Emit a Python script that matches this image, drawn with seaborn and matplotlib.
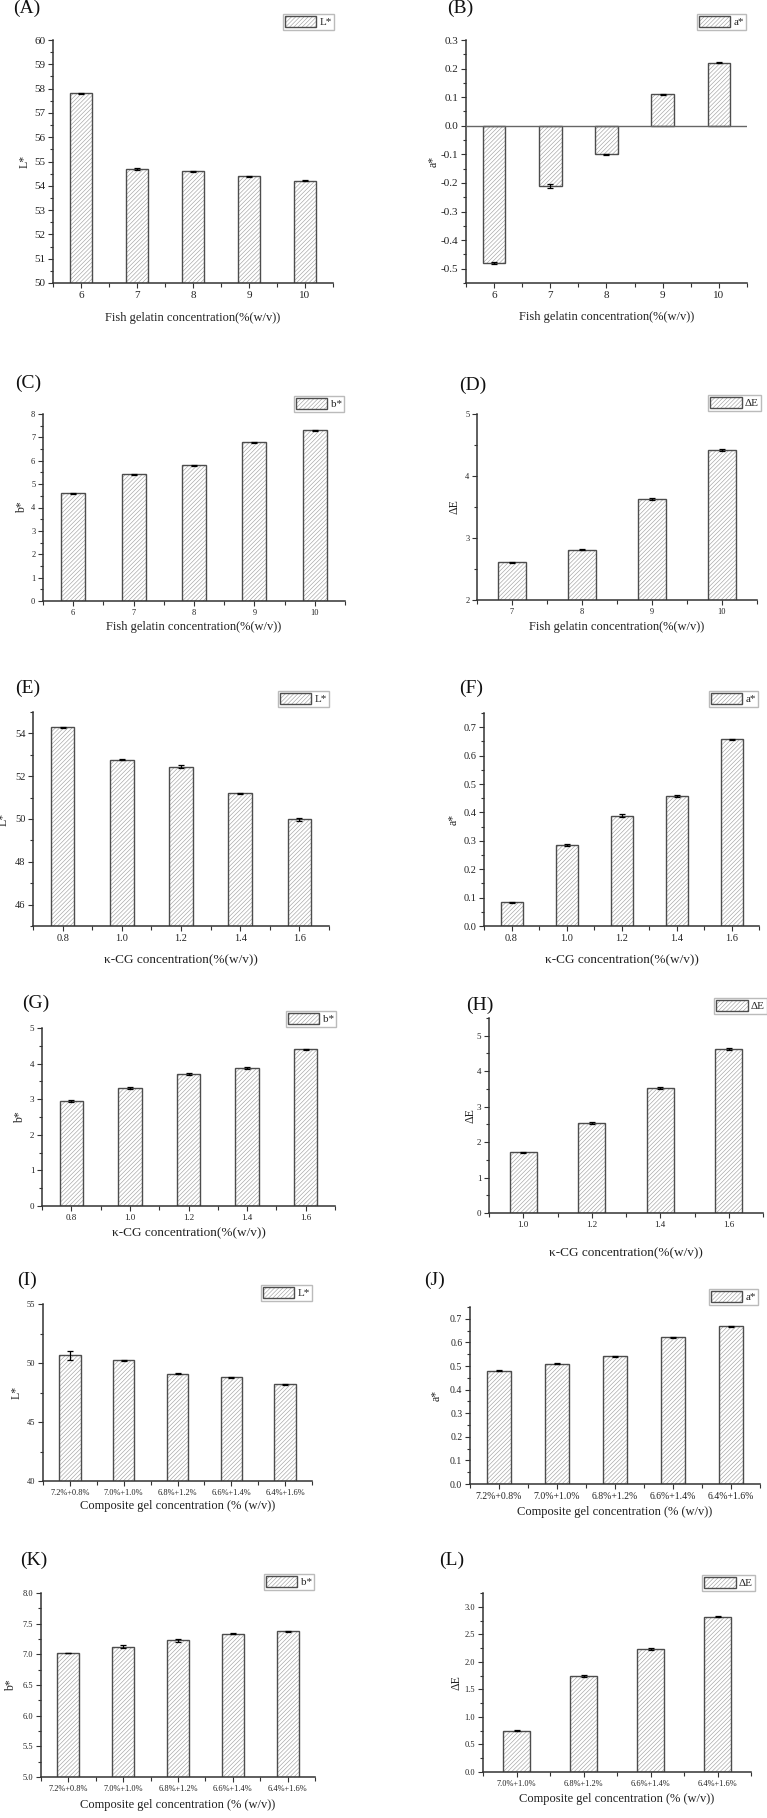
import numpy as np
import matplotlib
matplotlib.use("Agg")
import matplotlib.pyplot as plt
from matplotlib.colors import to_rgba
from matplotlib.ticker import MultipleLocator, FormatStrFormatter
import seaborn as sns

W, H = 767, 1818

# categories
fish_x = ["6", "7", "8", "9", "10"]
fish_x_de = ["7", "8", "9", "10"]
kcg_x = ["0.8", "1.0", "1.2", "1.4", "1.6"]
kcg_x_de = ["1.0", "1.2", "1.4", "1.6"]
comp_x = ["7.2%+0.8%", "7.0%+1.0%", "6.8%+1.2%", "6.6%+1.4%", "6.4%+1.6%"]
comp_x_de = ["7.0%+1.0%", "6.8%+1.2%", "6.6%+1.4%", "6.4%+1.6%"]

# values (mean, error)
fish_L = [57.8, 54.7, 54.6, 54.4, 54.2]
fish_L_err = [0.02, 0.03, 0.02, 0.02, 0.02]
fish_a = [-0.48, -0.21, -0.10, 0.11, 0.22]
fish_a_err = [0.002, 0.006, 0.002, 0.002, 0.002]
fish_b = [4.6, 5.42, 5.8, 6.8, 7.31]
fish_b_err = [0.02, 0.02, 0.02, 0.02, 0.02]
fish_dE = [2.61, 2.81, 3.63, 4.42]
fish_dE_err = [0.01, 0.01, 0.01, 0.01]

kcg_L = [54.28, 52.78, 52.44, 51.2, 49.98]
kcg_L_err = [0.02, 0.02, 0.07, 0.03, 0.06]
kcg_a = [0.084, 0.285, 0.389, 0.458, 0.657]
kcg_a_err = [0.002, 0.002, 0.004, 0.003, 0.002]
kcg_b = [2.95, 3.31, 3.71, 3.88, 4.40]
kcg_b_err = [0.03, 0.02, 0.02, 0.02, 0.01]
kcg_dE = [1.71, 2.54, 3.52, 4.62]
kcg_dE_err = [0.02, 0.02, 0.02, 0.03]

comp_L = [50.65, 50.23, 49.1, 48.78, 48.2]
comp_L_err = [0.38, 0.03, 0.03, 0.03, 0.03]
comp_a = [0.48, 0.51, 0.542, 0.622, 0.668]
comp_a_err = [0.002, 0.002, 0.002, 0.002, 0.002]
comp_b = [7.02, 7.125, 7.23, 7.335, 7.375]
comp_b_err = [0.005, 0.02, 0.025, 0.01, 0.005]
comp_dE = [0.75, 1.745, 2.235, 2.82]
comp_dE_err = [0.005, 0.025, 0.02, 0.01]

fish_label = "Fish gelatin concentration(%(w/v))"
kcg_label = "κ-CG concentration(%(w/v))"
comp_label = "Composite gel concentration (% (w/v))"

sns.set_theme(style="ticks")
plt.rcParams['font.family'] = ['Liberation Serif', 'DejaVu Serif']
plt.rcParams['axes.unicode_minus'] = False
plt.rcParams['hatch.linewidth'] = 0.45

EDGE = "#4d4d4d"
HATCH_C = "#a3a3a3"
AXC = "#333333"


def recolor_hatch(patch):
    # hatch lighter than the bar outline (hatchcolor kwarg not in mpl 3.10)
    patch._hatch_color = to_rgba(HATCH_C)
    patch.stale = True


# letter, cats, vals, errs, ylabel, xlabel, ylim, major, minor, fmt,
# axes box (l, t, r, b), letter pos, legend (r, t), ylabel x, xlabel y, tick size, xlabel size
panels = [
    ("(A)", fish_x, fish_L, fish_L_err, "L*", fish_label, (50, 60), 1, 0.5, "%d",
     (53, 40, 333, 283), (13, 8), (334, 14), 25, 318, 8, 9),
    ("(B)", fish_x, fish_a, fish_a_err, "a*", fish_label, (-0.55, 0.3), 0.1, 0.05, "%.1f",
     (466, 40, 747, 283), (447, 8), (746, 14), 434, 317, 8, 9),
    ("(C)", fish_x, fish_b, fish_b_err, "b*", fish_label, (0, 8), 1, 0.5, "%d",
     (43, 414, 345, 601), (15, 383), (344, 396), 22, 627, 6, 9),
    ("(D)", fish_x_de, fish_dE, fish_dE_err, "ΔE", fish_label, (2, 5), 1, 0.5, "%d",
     (477, 414, 757, 600), (459, 385), (761, 395), 454, 627, 6, 9),
    ("(E)", kcg_x, kcg_L, kcg_L_err, "L*", kcg_label, (45, 55), 2, 1, "%d",
     (33, 712, 329, 926), (15, 688), (329, 691), 4, 960, 7.5, 9.5),
    ("(F)", kcg_x, kcg_a, kcg_a_err, "a*", kcg_label, (0, 0.75), 0.1, 0.05, "%.1f",
     (484, 713, 759, 926), (459, 688), (758, 691), 454, 960, 7.5, 9.5),
    ("(G)", kcg_x, kcg_b, kcg_b_err, "b*", kcg_label, (0, 5), 1, 0.5, "%d",
     (42, 1028, 335, 1206), (22, 1003), (336, 1011), 20, 1233, 6.5, 9.5),
    ("(H)", kcg_x_de, kcg_dE, kcg_dE_err, "ΔE", kcg_label, (0, 5.5), 1, 0.5, "%d",
     (489, 1018, 763, 1213), (466, 1005), (767, 998), 470, 1253, 6.5, 9.5),
    ("(I)", comp_x, comp_L, comp_L_err, "L*", comp_label, (40, 55), 5, 2.5, "%d",
     (43, 1304, 312, 1481), (17, 1280), (312, 1285), 17, 1506, 6, 9),
    ("(J)", comp_x, comp_a, comp_a_err, "a*", comp_label, (0, 0.75), 0.1, 0.05, "%.1f",
     (470, 1307, 760, 1484), (424, 1280), (758, 1289), 437, 1512, 7, 9),
    ("(K)", comp_x, comp_b, comp_b_err, "b*", comp_label, (5, 8), 0.5, 0.25, "%.1f",
     (41, 1593, 315, 1777), (20, 1560), (314, 1574), 11, 1805, 6, 9),
    ("(L)", comp_x_de, comp_dE, comp_dE_err, "ΔE", comp_label, (0, 3.25), 0.5, 0.25, "%.1f",
     (483, 1593, 751, 1772), (439, 1560), (755, 1575), 456, 1799, 6, 9),
]

fig = plt.figure(figsize=(W / 100, H / 100), dpi=100)

for (letter, cats, vals, errs, ylab, xlab, ylim, major, minor, fmt,
     box, lpos, legpos, ylab_x, xlab_y, tsize, xsize) in panels:
    l, t, r, b = box
    ax = fig.add_axes([l / W, 1 - b / H, (r - l) / W, (b - t) / H])
    sns.barplot(x=cats, y=vals, ax=ax, color="white", edgecolor=EDGE,
                hatch="////////", linewidth=1.0, width=0.4, errorbar=None,
                label=ylab, saturation=1)
    for p in ax.patches:
        recolor_hatch(p)
    n = len(cats)
    ax.errorbar(np.arange(n), vals, yerr=errs, fmt="none", ecolor="black",
                elinewidth=0.9, capsize=2.5, capthick=0.9, zorder=4)
    if ylim[0] < 0:
        ax.axhline(0, color="#666666", lw=1.0, zorder=3)
    ax.set_xlim(-0.5, n - 0.5)
    ax.set_ylim(*ylim)
    ax.yaxis.set_major_locator(MultipleLocator(major))
    ax.yaxis.set_minor_locator(MultipleLocator(minor))
    ax.yaxis.set_major_formatter(FormatStrFormatter(fmt))
    ax.set_xticks(np.arange(-0.5, n, 1.0), minor=True)
    sns.despine(ax=ax)
    for s in ("left", "bottom"):
        ax.spines[s].set_color(AXC)
        ax.spines[s].set_linewidth(1.1)
    ax.tick_params(axis="both", which="both", direction="out", colors=AXC,
                   labelcolor="#222222", labelsize=tsize, width=0.8)
    ax.tick_params(which="major", length=3.5, pad=2)
    ax.tick_params(which="minor", length=2)
    ax.tick_params(axis="x", which="minor", length=3)

    ax.set_ylabel(ylab, fontsize=8.5, color="#222222")
    ax.yaxis.label.set_va("center")
    ax.yaxis.set_label_coords((ylab_x - l) / (r - l), 0.5)
    ax.set_xlabel(xlab, fontsize=xsize, color="#222222")
    ax.xaxis.label.set_va("center")
    ax.xaxis.set_label_coords(0.5, (b - xlab_y) / (b - t))

    leg = ax.legend(loc="upper right", bbox_to_anchor=(legpos[0] / W, 1 - legpos[1] / H),
                    bbox_transform=fig.transFigure, frameon=True, fancybox=False,
                    fontsize=8, handlelength=2.8, handleheight=1.1,
                    borderpad=0.2, handletextpad=0.3, borderaxespad=0)
    leg.get_frame().set_edgecolor("#aaaaaa")
    leg.get_frame().set_linewidth(1.0)
    for p in leg.get_patches():
        recolor_hatch(p)

    fig.text(lpos[0] / W, 1 - lpos[1] / H, letter, fontsize=14,
             ha="left", va="center", color="#111111")

fig.savefig("out.png", dpi=100, facecolor="white")
